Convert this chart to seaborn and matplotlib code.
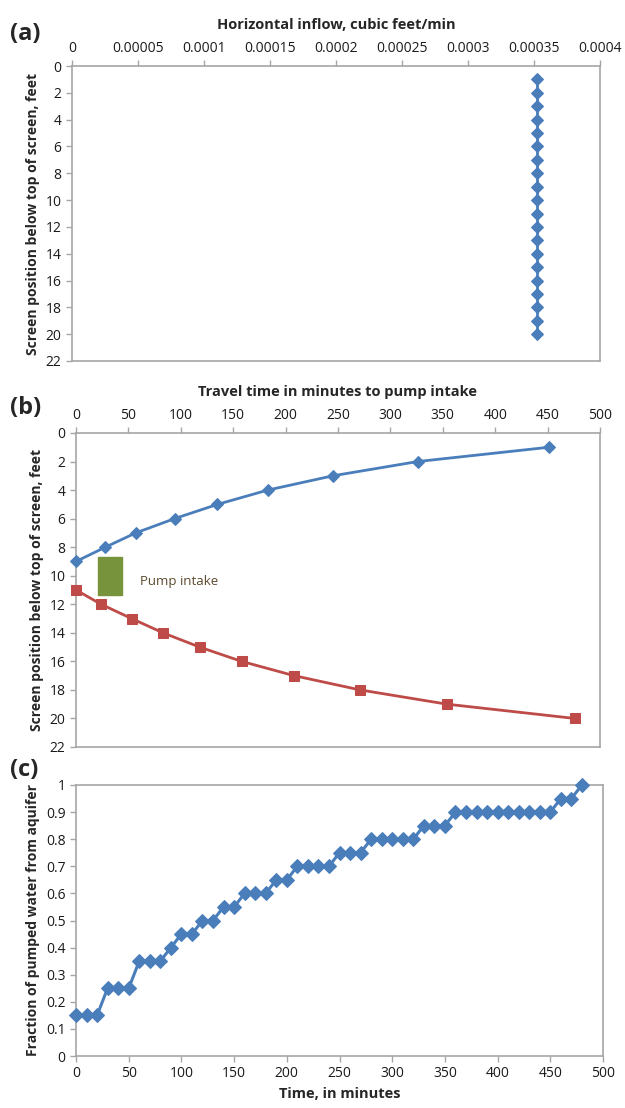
import numpy as np
import pandas as pd
import matplotlib
matplotlib.use("Agg")
import matplotlib.pyplot as plt
from matplotlib.patches import Rectangle
import seaborn as sns

# panel (a): horizontal inflow along the screen
inflow_depth = list(range(1, 21))
inflow_rate = [0.000352] * 20

# panel (b): travel time to pump intake, above and below the intake
upper_depth = [9, 8, 7, 6, 5, 4, 3, 2, 1]
upper_time = [0, 28, 57, 94, 135, 183, 245, 326, 451]
lower_depth = [11, 12, 13, 14, 15, 16, 17, 18, 19, 20]
lower_time = [0, 24, 53, 83, 118, 158, 208, 271, 354, 476]
intake_time = [21, 44]
intake_depth = [8.7, 11.35]

# panel (c): fraction of pumped water from aquifer
time_min = list(range(0, 481, 10))
fraction = [0.15, 0.15, 0.15, 0.25, 0.25, 0.25, 0.35, 0.35, 0.35, 0.40,
            0.45, 0.45, 0.50, 0.50, 0.55, 0.55, 0.60, 0.60, 0.60, 0.65,
            0.65, 0.70, 0.70, 0.70, 0.70, 0.75, 0.75, 0.75, 0.80, 0.80,
            0.80, 0.80, 0.80, 0.85, 0.85, 0.85, 0.90, 0.90, 0.90, 0.90,
            0.90, 0.90, 0.90, 0.90, 0.90, 0.90, 0.95, 0.95, 1.00]

a_ticks = [0, 0.00005, 0.0001, 0.00015, 0.0002, 0.00025, 0.0003, 0.00035, 0.0004]
a_ticklabels = ["0", "0.00005", "0.0001", "0.00015", "0.0002", "0.00025", "0.0003", "0.00035", "0.0004"]

sns.set_theme(style="white")
plt.rcParams['font.family'] = ['Open Sans', 'DejaVu Sans']

BLUE = "#4A7EBB"
RED = "#BE4B48"
SPINE = "#A6A6A6"
TXT = "#1a1a1a"

fig = plt.figure(figsize=(6.25, 11.08), dpi=100)
W, H = 625, 1108

def box(l, t, r, b):
    return [l / W, 1 - b / H, (r - l) / W, (b - t) / H]

def style(ax):
    for s in ax.spines.values():
        s.set_color(SPINE)
        s.set_linewidth(1.2)
    ax.tick_params(colors=SPINE, labelcolor=TXT, labelsize=10, length=4, width=1)
    for ln in ax.lines:
        ln.set_clip_on(False)
        ln.set_zorder(4)

ylab = "Screen position below top of screen, feet"

# (a)
ax1 = fig.add_axes(box(72, 66, 600, 361))
df_a = pd.DataFrame({"rate": inflow_rate, "depth": inflow_depth})
sns.lineplot(data=df_a, x="rate", y="depth", sort=False, estimator=None, orient="y",
             color=BLUE, lw=2, marker="D", markersize=6.5, markeredgecolor=BLUE, ax=ax1)
ax1.set_xlim(0, 0.0004)
ax1.set_ylim(22, 0)
ax1.set_yticks(range(0, 23, 2))
ax1.set_xticks(a_ticks)
ax1.set_xticklabels(a_ticklabels)
ax1.xaxis.tick_top()
ax1.xaxis.set_label_position("top")
ax1.set_xlabel("Horizontal inflow, cubic feet/min", fontsize=10.5, fontweight="bold", labelpad=8)
ax1.set_ylabel(ylab, fontsize=10, fontweight="bold", labelpad=4)
style(ax1)
fig.text(10 / W, 1 - 34 / H, "(a)", fontsize=17, fontweight="bold", va="center")

# (b)
ax2 = fig.add_axes(box(76, 433, 600, 747))
df_up = pd.DataFrame({"time": upper_time, "depth": upper_depth})
df_lo = pd.DataFrame({"time": lower_time, "depth": lower_depth})
sns.lineplot(data=df_up, x="time", y="depth", estimator=None, color=BLUE, lw=2,
             marker="D", markersize=6.5, markeredgecolor=BLUE, ax=ax2)
sns.lineplot(data=df_lo, x="time", y="depth", estimator=None, color=RED, lw=2,
             marker="s", markersize=7.5, markeredgecolor=RED, ax=ax2)
ax2.add_patch(Rectangle((intake_time[0], intake_depth[0]), intake_time[1] - intake_time[0],
                        intake_depth[1] - intake_depth[0], color="#77933C", zorder=3))
ax2.text(61, 10.4, "Pump intake", fontsize=9.5, color="#5c4a2e", va="center")
ax2.set_xlim(0, 500)
ax2.set_ylim(22, 0)
ax2.set_yticks(range(0, 23, 2))
ax2.set_xticks(range(0, 501, 50))
ax2.xaxis.tick_top()
ax2.xaxis.set_label_position("top")
ax2.set_xlabel("Travel time in minutes to pump intake", fontsize=10.5, fontweight="bold", labelpad=8)
ax2.set_ylabel(ylab, fontsize=10, fontweight="bold", labelpad=4)
style(ax2)
fig.text(10 / W, 1 - 408 / H, "(b)", fontsize=17, fontweight="bold", va="center")

# (c)
ax3 = fig.add_axes(box(76, 785, 603, 1056))
df_c = pd.DataFrame({"time": time_min, "fraction": fraction})
sns.lineplot(data=df_c, x="time", y="fraction", estimator=None, color=BLUE, lw=2.2,
             marker="D", markersize=7, markeredgecolor=BLUE, ax=ax3)
ax3.set_xlim(0, 500)
ax3.set_ylim(0, 1)
ax3.set_xticks(range(0, 501, 50))
ax3.set_yticks(np.round(np.arange(0, 1.01, 0.1), 1))
ax3.set_yticklabels(["0", "0.1", "0.2", "0.3", "0.4", "0.5", "0.6", "0.7", "0.8", "0.9", "1"])
ax3.set_xlabel("Time, in minutes", fontsize=10.5, fontweight="bold", labelpad=4)
ax3.set_ylabel("Fraction of pumped water from aquifer", fontsize=10, fontweight="bold", labelpad=4)
style(ax3)
fig.text(10 / W, 1 - 770 / H, "(c)", fontsize=17, fontweight="bold", va="center")

for ax in (ax1, ax2, ax3):
    ax.tick_params(axis="both", which="both", direction="out")
    ax.xaxis.set_ticks_position("top" if ax is not ax3 else "bottom")
    ax.yaxis.set_ticks_position("left")

fig.savefig("out.png", dpi=100)
